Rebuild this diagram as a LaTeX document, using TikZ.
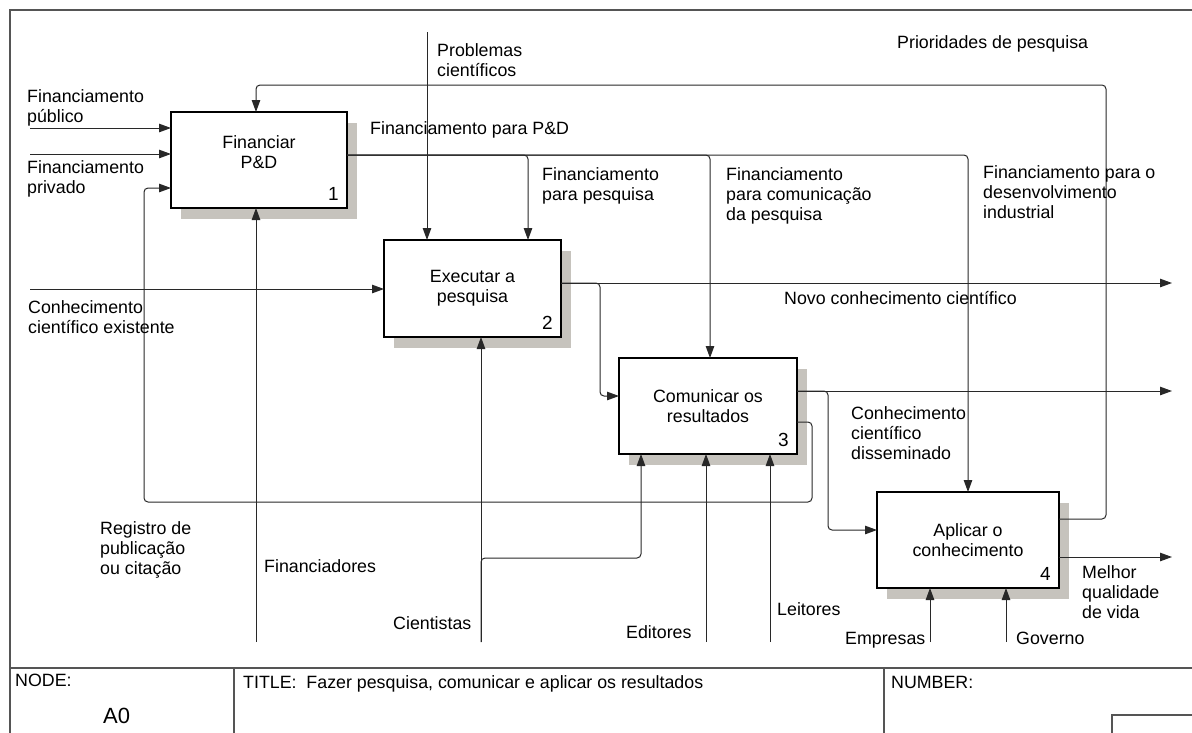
\documentclass[tikz,border=0pt]{standalone}
\usepackage{fontspec}
\setmainfont{Liberation Sans}
\usetikzlibrary{arrows.meta,shadows,calc}
\definecolor{shadowc}{RGB}{198,195,189}
\definecolor{linec}{RGB}{40,40,40}
\definecolor{framec}{RGB}{85,85,85}
\newcommand{\lblfont}{\fontsize{17.8}{20}\selectfont}
\newcommand{\numfont}{\fontsize{19}{20}\selectfont}
\tikzset{
  box/.style={draw=black, line width=2pt, fill=white, inner sep=0pt, outer sep=0pt,
    align=center, font=\lblfont,
    drop shadow={shadow xshift=10pt, shadow yshift=-11pt, fill=shadowc, opacity=1}},
  num/.style={font=\numfont, inner sep=0pt, anchor=base east},
  lbl/.style={font=\lblfont, align=left, inner sep=0pt, anchor=base west},
  arr/.style={draw=linec, line width=1pt, -{Triangle[length=12pt,width=8.5pt]}},
  rc/.style={rounded corners=4pt},
  frame/.style={draw=framec, line width=1.5pt}
}
\begin{document}
\begin{tikzpicture}[x=1pt,y=-1pt]
\useasboundingbox (0,0) rectangle (1192,732);
% frame and title block
\draw[frame] (1200,10) -- (10,10) -- (10,740);
\draw[frame] (10,668) -- (1200,668);
\draw[frame] (234,668) -- (234,740);
\draw[frame] (884,668) -- (884,740);
\draw[frame] (1200,715) -- (1112,715) -- (1112,740);
\node[lbl] (tnode) at (15,686) {NODE:};
\node[font=\fontsize{22}{24}\selectfont, inner sep=0pt, anchor=base west] (ta0) at (103,723) {A0};
\node[lbl] (ttitle) at (243,688) {TITLE:\ \ Fazer pesquisa, comunicar e aplicar os resultados};
\node[lbl] (tnum) at (891,688) {NUMBER:};

% boxes
\node[box, minimum width=176pt, minimum height=96pt] (b1) at (259,160) {Financiar\\P\&D\\[-4pt]\mbox{}};
\node[box, minimum width=177pt, minimum height=97pt] (b2) at (472.5,288.5) {Executar a\\pesquisa};
\node[box, minimum width=178pt, minimum height=96pt] (b3) at (708,406) {Comunicar os\\resultados};
\node[box, minimum width=182pt, minimum height=96pt] (b4) at (968,540) {Aplicar o\\conhecimento};
\node[num] (n1) at ($(b1.south east)+(-8,-8)$) {1};
\node[num] (n2) at ($(b2.south east)+(-8,-8)$) {2};
\node[num] (n3) at ($(b3.south east)+(-8,-8)$) {3};
\node[num] (n4) at ($(b4.south east)+(-8,-8)$) {4};

% free ends
\coordinate (pub) at (30,128);
\coordinate (priv) at (30,154);
\coordinate (exist) at (30,289);
\coordinate (prob) at (427,32);
\coordinate (novo) at (1172,283);
\coordinate (diss) at (1172,391);
\coordinate (mel) at (1172,557);
\coordinate (m1) at (256,642);
\coordinate (m2) at (481,642);
\coordinate (m3) at (706,642);
\coordinate (m4) at (770,642);
\coordinate (m5) at (930,642);
\coordinate (m6) at (1006,642);

% inputs
\draw[arr] (pub) -- (pub -| b1.west);
\draw[arr] (priv) -- (priv -| b1.west);
\draw[arr] (exist) -- (exist -| b2.west);
\draw[arr] (prob) -- (prob |- b2.north);
% feedback: registro de publicacao
\draw[arr, rc] (b3.east |- 0,422) -- (812,422) -- (812,502) -- (144,502) -- (144,188) -- (b1.west |- 0,188);
% prioridades de pesquisa
\draw[arr, rc] (b4.east |- 0,519) -- (1106,519) -- (1106,85) -- (256,85) -- (256,0 |- b1.north);
% financiamento
\draw[arr, rc] (b1.east |- 0,155) -- (968,155) -- (b4.north);
\draw[arr, rc] (b1.east |- 0,155) -- (528,155) -- (528,0 |- b2.north);
\draw[arr, rc] (b1.east |- 0,155) -- (710,155) -- (710,0 |- b3.north);
% outputs
\draw[arr] (b2.east |- novo) -- (novo);
\draw[arr, rc] (b2.east |- novo) -- (600,283) -- (600,396) -- (b3.west |- 0,396);
\draw[arr] (b3.east |- diss) -- (diss);
\draw[arr, rc] (b3.east |- diss) -- (828,391) -- (828,530) -- (b4.west |- 0,530);
\draw[arr] (b4.east |- mel) -- (mel);
% mechanisms
\draw[arr] (m1) -- (m1 |- b1.south);
\draw[arr] (m2) -- (m2 |- b2.south);
\draw[arr, rc] (m2) -- ++(0,-84) -- (641,558) -- (641,0 |- b3.south);
\draw[arr] (m3) -- (m3 |- b3.south);
\draw[arr] (m4) -- (m4 |- b3.south);
\draw[arr] (m5) -- (m5 |- b4.south);
\draw[arr] (m6) -- (m6 |- b4.south);

% labels (base = baseline of the last line)
\node[lbl] (lpub) at (27,122) {Financiamento\\público};
\node[lbl] (lpriv) at (27,193) {Financiamento\\privado};
\node[lbl] (lexist) at (28,333) {Conhecimento\\científico existente};
\node[lbl] (lreg) at (100,574) {Registro de\\publicação\\ou citação};
\node[lbl] (lfin) at (264,572) {Financiadores};
\node[lbl] (lcie) at (393,629) {Cientistas};
\node[lbl] (ledi) at (626,638) {Editores};
\node[lbl] (llei) at (777,615) {Leitores};
\node[lbl] (lemp) at (845,644) {Empresas};
\node[lbl] (lgov) at (1016,644) {Governo};
\node[lbl] (lmel) at (1082,618) {Melhor\\qualidade\\de vida};
\node[lbl] (ldiss) at (851,459) {Conhecimento\\científico\\disseminado};
\node[lbl] (lnovo) at (784,304) {Novo conhecimento científico};
\node[lbl] (lpd) at (370,134) {Financiamento para P\&D};
\node[lbl] (lprob) at (437,76) {Problemas\\científicos};
\node[lbl] (lfpes) at (542,200) {Financiamento\\para pesquisa};
\node[lbl] (lfcom) at (726,220) {Financiamento\\para comunicação\\da pesquisa};
\node[lbl] (lfind) at (983,218) {Financiamento para o\\desenvolvimento\\industrial};
\node[lbl] (lprio) at (897,48) {Prioridades de pesquisa};
\end{tikzpicture}
\end{document}
